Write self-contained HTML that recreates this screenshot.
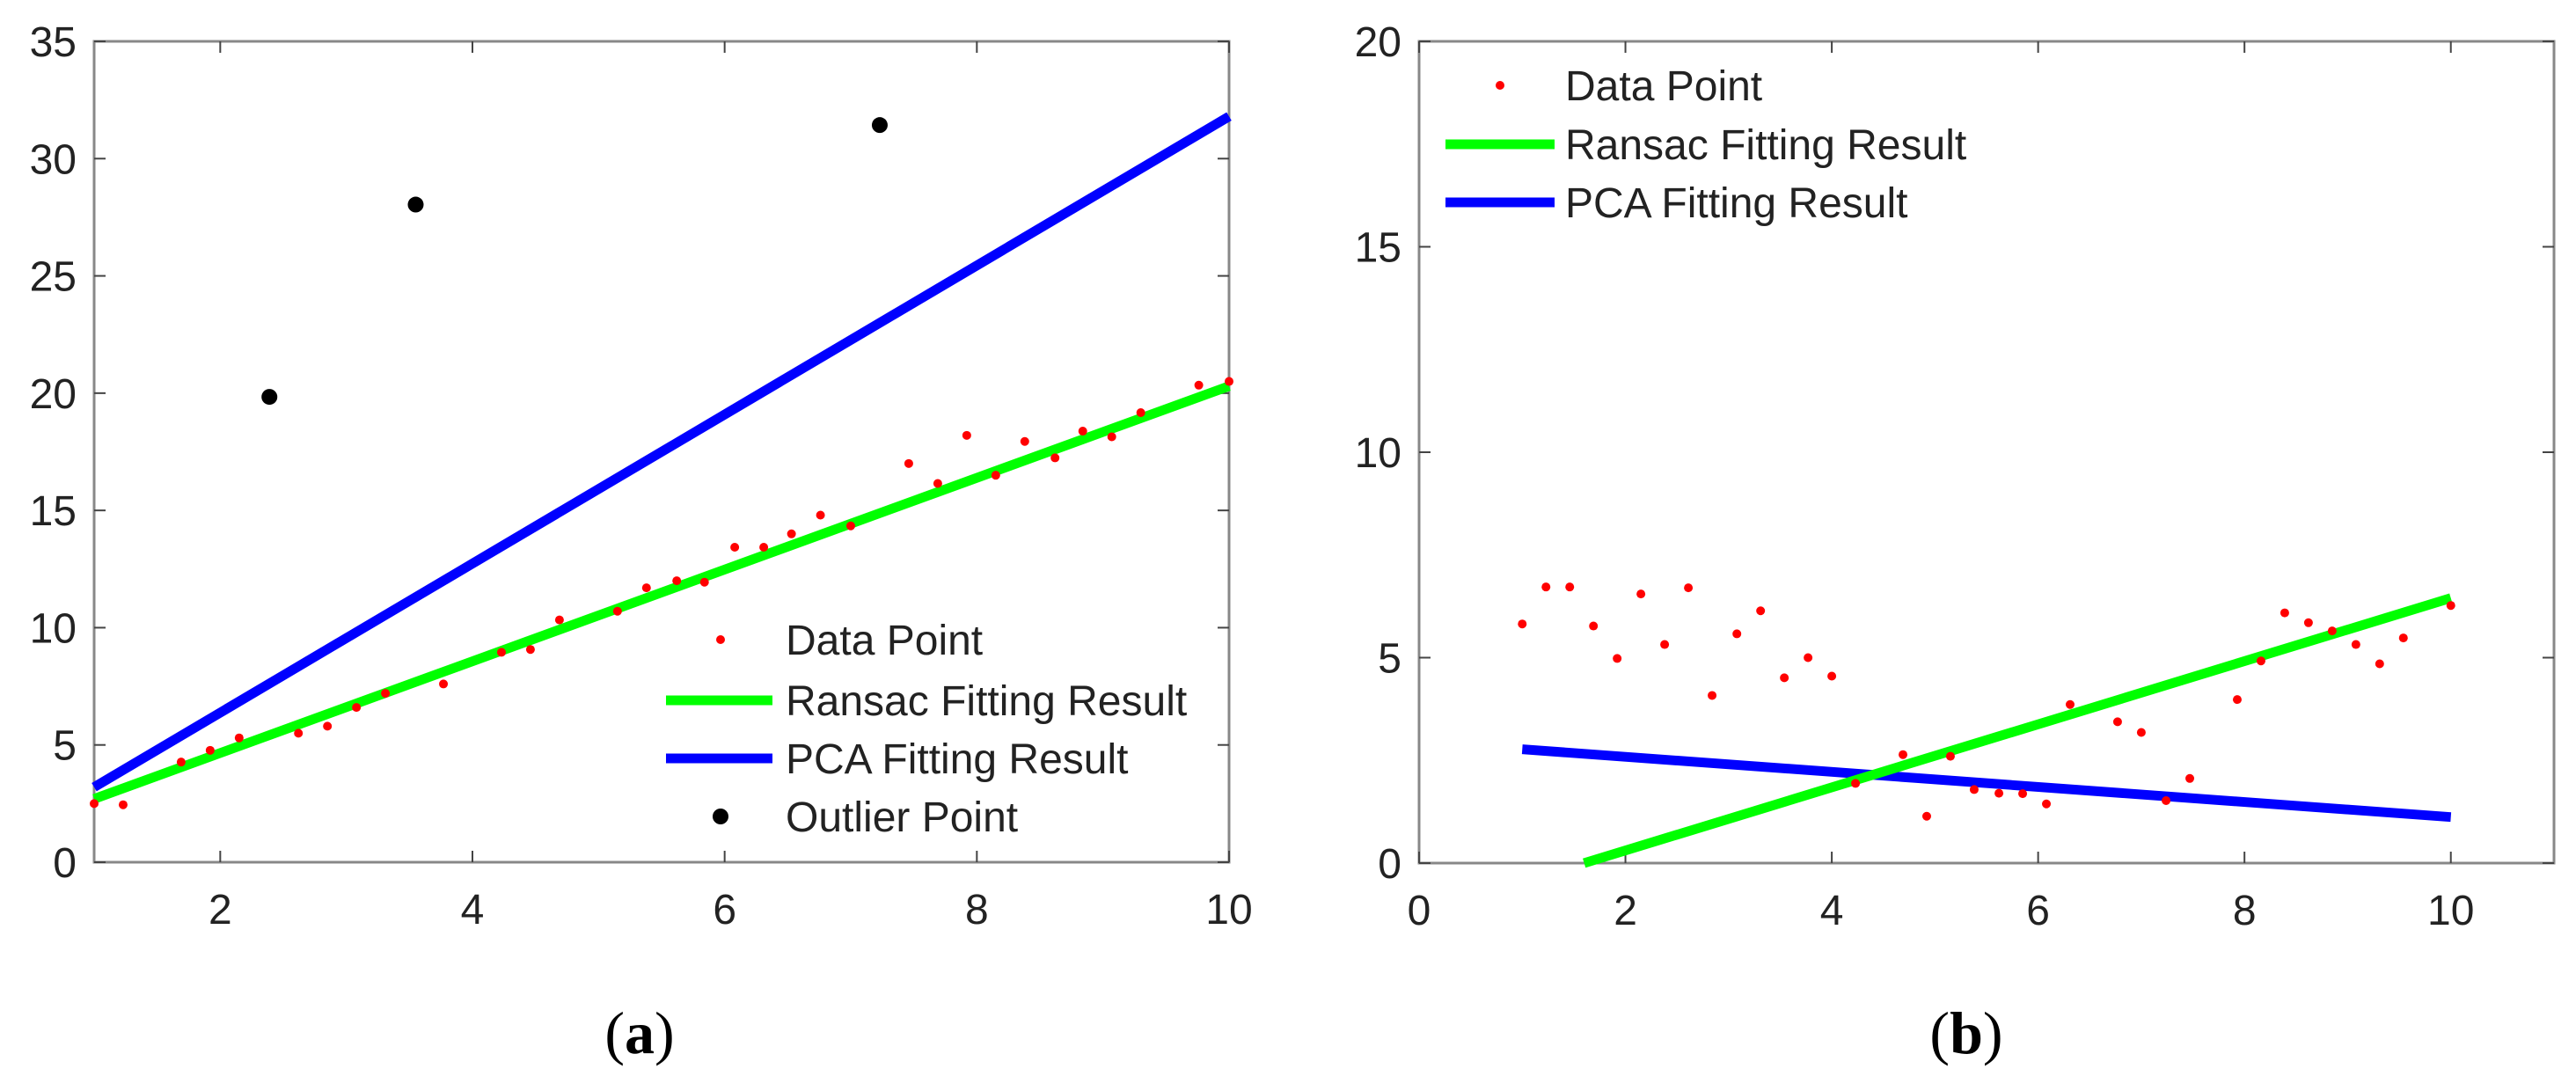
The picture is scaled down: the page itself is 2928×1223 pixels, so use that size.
<!DOCTYPE html>
<html><head><meta charset="utf-8"><style>
body{margin:0;background:#fff;}
svg{display:block;}
text{font-family:"Liberation Sans",sans-serif;}
text.cap{font-family:"Liberation Serif",serif;}
</style></head><body>
<svg id="fig" width="2928" height="1223" viewBox="0 0 2928 1223"></svg>
<script>
// Panel (a) data
const aDataX = [1,1.23,1.69,1.92,2.15,2.62,2.85,3.08,3.31,3.77,4.23,4.46,4.69,5.15,5.38,5.62,5.84,6.08,6.31,6.53,6.76,7.0,7.46,7.69,7.92,8.15,8.38,8.62,8.84,9.07,9.3,9.76,10];
const aDataY = [2.5,2.45,4.27,4.77,5.3,5.5,5.8,6.6,7.2,7.6,8.95,9.07,10.33,10.7,11.7,12.0,11.94,13.43,13.43,14.0,14.8,14.34,17.0,16.15,18.2,16.5,17.94,17.24,18.38,18.14,19.17,20.34,20.5];
const aOutX = [2.39,3.55,7.23];
const aOutY = [19.84,28.04,31.43];
const aRansacX = [1,10];
const aRansacY = [2.7,20.3];
const aPcaX = [1,10];
const aPcaY = [3.2,31.8];
const aXTicks = [2,4,6,8,10];
const aYTicks = [0,5,10,15,20,25,30,35];
// Panel (b) data
const bDataX = [1.0,1.23,1.46,1.69,1.92,2.15,2.38,2.61,2.84,3.08,3.31,3.54,3.77,4.0,4.23,4.69,4.92,5.15,5.38,5.62,5.85,6.08,6.31,6.77,7.0,7.24,7.47,7.93,8.16,8.39,8.62,8.85,9.08,9.31,9.54,10];
const bDataY = [5.82,6.72,6.72,5.77,4.98,6.55,5.32,6.7,4.08,5.58,6.14,4.51,5.0,4.55,1.94,2.64,1.14,2.6,1.79,1.7,1.69,1.44,3.86,3.44,3.18,1.52,2.06,3.98,4.92,6.09,5.85,5.65,5.32,4.85,5.48,6.27];
const bRansacX = [1.6,10];
const bRansacY = [0,6.45];
const bPcaX = [1,10];
const bPcaY = [2.77,1.12];
const bXTicks = [0,2,4,6,8,10];
const bYTicks = [0,5,10,15,20];

const NS="http://www.w3.org/2000/svg";
const svg=document.getElementById('fig');
function mk(tag,attrs,parent){const e=document.createElementNS(NS,tag);for(const k in attrs)e.setAttribute(k,attrs[k]);(parent||svg).appendChild(e);return e;}

function panel(cfg){
  const g=mk('g',{});
  
  
  const sx=v=>cfg.L+(v-cfg.x0)/(cfg.x1-cfg.x0)*(cfg.R-cfg.L);
  const sy=v=>cfg.B-(v-cfg.y0)/(cfg.y1-cfg.y0)*(cfg.B-cfg.T);
  const box=mk('rect',{x:cfg.L,y:cfg.T,width:cfg.R-cfg.L,height:cfg.B-cfg.T,fill:'none',stroke:'#888','stroke-width':3},g);
  
  
  cfg.xt.forEach(t=>{
    const x=sx(t);
    mk('line',{x1:x,y1:cfg.B,x2:x,y2:cfg.B-13,stroke:'#444','stroke-width':2},g);
    mk('line',{x1:x,y1:cfg.T,x2:x,y2:cfg.T+13,stroke:'#444','stroke-width':2},g);
    const tx=mk('text',{x:x,y:cfg.B+70,'font-size':48,fill:'#222','text-anchor':'middle'},g);
    tx.textContent=t;
    
    
  });
  cfg.yt.forEach(t=>{
    const y=sy(t);
    mk('line',{x1:cfg.L,y1:y,x2:cfg.L+13,y2:y,stroke:'#444','stroke-width':2},g);
    mk('line',{x1:cfg.R,y1:y,x2:cfg.R-13,y2:y,stroke:'#444','stroke-width':2},g);
    const tx=mk('text',{x:cfg.L-20,y:y+17,'font-size':48,fill:'#222','text-anchor':'end'},g);
    tx.textContent=t;
    
    
  });
  const ln=(xs,ys,col,nm)=>{
    const l=mk('line',{x1:sx(xs[0]),y1:sy(ys[0]),x2:sx(xs[1]),y2:sy(ys[1]),stroke:col,'stroke-width':11},g);
    
    
  };
  ln(cfg.pcaX,cfg.pcaY,'#0000ff','pca-fit-line');
  ln(cfg.ranX,cfg.ranY,'#00ff00','ransac-fit-line');
  cfg.dx.forEach((v,i)=>{
    const c=mk('circle',{cx:sx(v),cy:sy(cfg.dy[i]),r:5,fill:'#ff0000'},g);
    
    
  });
  if(cfg.ox){cfg.ox.forEach((v,i)=>{
    const c=mk('circle',{cx:sx(v),cy:sy(cfg.oy[i]),r:9,fill:'#000'},g);
    
    
  });}
  const lg=mk('g',{},g);
  
  
  cfg.legend.forEach((it,i)=>{
    const y=cfg.legY[i];
    if(it.type==='dot'){mk('circle',{cx:cfg.legDot,cy:y,r:it.r,fill:it.col},lg);}
    else{mk('line',{x1:cfg.legL0,y1:y,x2:cfg.legL1,y2:y,stroke:it.col,'stroke-width':11},lg);}
    const t=mk('text',{x:cfg.legText,y:y+17,'font-size':48,fill:'#222'},lg);
    t.textContent=it.label;
    
    
  });
  const cap=mk('text',{x:cfg.capX,y:1197,'font-size':68,fill:'#000','text-anchor':'middle','class':'cap'},g);
  cap.innerHTML=cfg.cap;
  
  
}

panel({name:'panel-a',L:107,R:1397,T:47,B:980,x0:1,x1:10,y0:0,y1:35,xt:aXTicks,yt:aYTicks,
  dx:aDataX,dy:aDataY,ox:aOutX,oy:aOutY,ranX:aRansacX,ranY:aRansacY,pcaX:aPcaX,pcaY:aPcaY,
  legend:[{type:'dot',col:'#ff0000',r:5,label:'Data Point'},{type:'line',col:'#00ff00',label:'Ransac Fitting Result'},{type:'line',col:'#0000ff',label:'PCA Fitting Result'},{type:'dot',col:'#000',r:9,label:'Outlier Point'}],
  legY:[727,796,862,928],legDot:819,legL0:757,legL1:878,legText:893,capX:727,cap:'(<tspan font-weight="bold">a</tspan>)'});
panel({name:'panel-b',L:1613,R:2903,T:47,B:981,x0:0,x1:11,y0:0,y1:20,xt:bXTicks,yt:bYTicks,
  dx:bDataX,dy:bDataY,ranX:bRansacX,ranY:bRansacY,pcaX:bPcaX,pcaY:bPcaY,
  legend:[{type:'dot',col:'#ff0000',r:5,label:'Data Point'},{type:'line',col:'#00ff00',label:'Ransac Fitting Result'},{type:'line',col:'#0000ff',label:'PCA Fitting Result'}],
  legY:[97,164,230],legDot:1705,legL0:1643,legL1:1767,legText:1779,capX:2235,cap:'(<tspan font-weight="bold">b</tspan>)'});
</script>
</body></html>
